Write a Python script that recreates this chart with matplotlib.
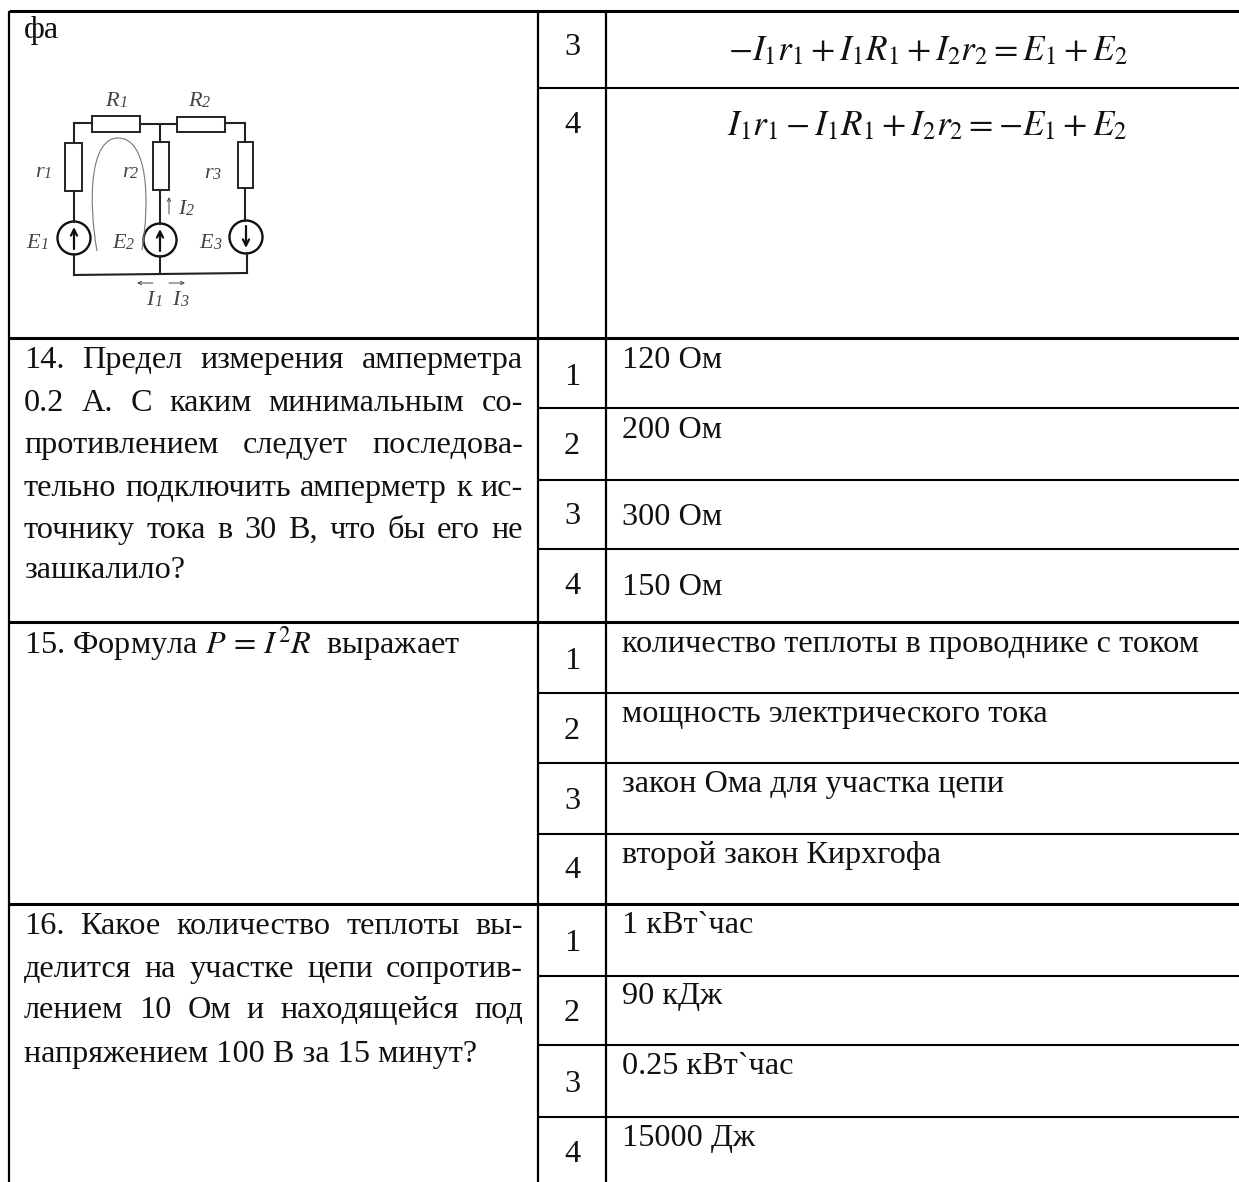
import matplotlib
matplotlib.use("Agg")
import matplotlib.pyplot as plt
from matplotlib.patches import Rectangle, Circle, PathPatch
from matplotlib.path import Path

plt.rcParams['font.family'] = ['Liberation Serif', 'DejaVu Serif']
plt.rcParams['mathtext.fontset'] = 'stix'

FS = 23.25  # taille du texte du tableau
FS_FORMULA = 25.4
FS_CIRC = 16

# lignes du tableau (en pixels de l'image)
col_x = [9, 538, 606]
full_rows = [11, 338, 622, 904]
answer_rows = [88, 408, 480, 549, 693, 763, 834, 976, 1045, 1117]

# questions, une liste de lignes, la derniere n'est pas justifiee
q14_lines = ["14. Предел измерения амперметра", "0.2 А. С каким минимальным со-",
             "противлением следует последова-", "тельно подключить амперметр к ис-",
             "точнику тока в 30 В, что бы его не", "зашкалило?"]
q14_base = [368, 411, 453, 496, 538, 578]
q16_lines = ["16. Какое количество теплоты вы-", "делится на участке цепи сопротив-",
             "лением 10 Ом и находящейся под", "напряжением 100 В за 15 минут?"]
q16_base = [934, 977, 1018, 1062]

# numeros des reponses
num_labels = ["3", "4", "1", "2", "3", "4", "1", "2", "3", "4", "1", "2", "3", "4"]
num_base = [55, 133, 385, 454, 524, 594, 669, 739, 809, 878, 951, 1021, 1092, 1162]

# reponses
answers = ["120 Ом", "200 Ом", "300 Ом", "150 Ом",
           "количество теплоты в проводнике с током", "мощность электрического тока",
           "закон Ома для участка цепи", "второй закон Кирхгофа",
           "1 кВтˋчас", "90 кДж", "0.25 кВтˋчас", "15000 Дж"]
answer_base = [368, 438, 525, 595, 652, 722, 792, 863, 933, 1004, 1074, 1146]

formula3 = r"$-I_1r_1+I_1R_1+I_2r_2=E_1+E_2$"
formula4 = r"$I_1r_1-I_1R_1+I_2r_2=-E_1+E_2$"

# schema electrique
wires = [([74, 92], [123, 123]), ([140, 177], [124, 124]), ([225, 244], [123, 123]),
         ([74, 74], [123, 143]), ([74, 74], [191, 222]), ([74, 74], [254, 275]),
         ([160, 160], [124, 142]), ([160, 160], [190, 224]), ([160, 160], [256, 274]),
         ([245, 245], [123, 142]), ([245, 245], [188, 221]), ([247, 247], [253, 273]),
         ([74, 247], [275, 273])]
resistors = [(92, 116, 48, 16), (177, 117, 48, 15), (65, 143, 17, 48),
             (153, 142, 16, 48), (238, 142, 15, 46)]
sources = [(74, 238, 1), (160, 240, 1), (246, 237, -1)]
circ_labels = [("R", "1", 105, 106), ("R", "2", 188, 106), ("r", "1", 35, 177), ("r", "2", 122, 177),
               ("r", "3", 204, 178), ("I", "2", 178, 214), ("E", "1", 26, 248), ("E", "2", 112, 248),
               ("E", "3", 199, 248), ("I", "1", 146, 305), ("I", "3", 172, 305)]
small_arrows = [(153, 283, 137, 283), (169, 283, 185, 283), (169, 214, 169, 197)]
loop_x = [97, 88, 90, 118, 148, 150, 142]
loop_y = [251, 200, 138, 138, 138, 200, 250]

fig = plt.figure(figsize=(12.39, 11.82), dpi=100)
ax = fig.add_axes([0, 0, 1, 1])
ax.set_xlim(0, 1239)
ax.set_ylim(1182, 0)
ax.axis("off")

for x in col_x:
    ax.plot([x, x], [full_rows[0], 1182], color="black", lw=1.6, solid_capstyle="butt")
for y in full_rows:
    ax.plot([col_x[0], 1239], [y, y], color="black", lw=2.2, solid_capstyle="butt")
for y in answer_rows:
    ax.plot([col_x[1], 1239], [y, y], color="black", lw=1.5, solid_capstyle="butt")


def put(x, y, s, **kw):
    return ax.text(x, y, s, fontsize=kw.pop("fontsize", FS), color=kw.pop("color", "#111111"), va="baseline", **kw)


def justified(line, y, x0=24, x1=523):
    words = line.split(" ")
    r = fig.canvas.get_renderer()
    arts = [put(x0, y, w) for w in words]
    widths = [a.get_window_extent(r).width for a in arts]
    gap = (x1 - x0 - sum(widths)) / (len(words) - 1)
    x = x0
    for a, w in zip(arts, widths):
        a.set_x(x)
        x += w + gap


for i, line in enumerate(q14_lines):
    if i == len(q14_lines) - 1:
        put(24, q14_base[i], line)
    else:
        justified(line, q14_base[i])
for i, line in enumerate(q16_lines):
    if i == len(q16_lines) - 1:
        put(24, q16_base[i], line)
    else:
        justified(line, q16_base[i])

put(24, 38, "фа")
put(24, 653, r"15. Формула $P\,=\,I^2R$  выражает")

for s, y in zip(num_labels, num_base):
    put(572, y, s, ha="center")
for s, y in zip(answers, answer_base):
    put(622, y, s)

put(928, 60, formula3, ha="center", fontsize=FS_FORMULA)
put(927, 135, formula4, ha="center", fontsize=FS_FORMULA)

# le schema
for xs, ys in wires:
    ax.plot(xs, ys, color="#222222", lw=1.5, solid_capstyle="projecting")
for x, y, w, h in resistors:
    ax.add_patch(Rectangle((x, y), w, h, fill=False, ec="#222222", lw=1.4))
for x, y, d in sources:
    ax.add_patch(Circle((x, y), 16.5, fill=False, ec="#111111", lw=1.7))
    ax.annotate("", xy=(x, y - 11 * d), xytext=(x, y + 11 * d),
                arrowprops=dict(arrowstyle="->", color="#111111", lw=1.6, mutation_scale=11, shrinkA=0, shrinkB=0))
for name, sub, x, y in circ_labels:
    put(x, y, name, fontsize=FS_CIRC, style="italic", color="#444444")
    put(x + (14 if name in "RE" else 8), y + 1, sub, fontsize=FS_CIRC * 0.72,
        style="italic", color="#444444")
for x0, y0, x1, y1 in small_arrows:
    ax.annotate("", xy=(x1, y1), xytext=(x0, y0),
                arrowprops=dict(arrowstyle="->", color="#444444", lw=0.7, mutation_scale=6, shrinkA=0, shrinkB=0))
codes = [Path.MOVETO] + [Path.CURVE4] * 6
ax.add_patch(PathPatch(Path(list(zip(loop_x, loop_y)), codes), fill=False, ec="#777777", lw=0.8))

fig.savefig("out.png", dpi=100)
